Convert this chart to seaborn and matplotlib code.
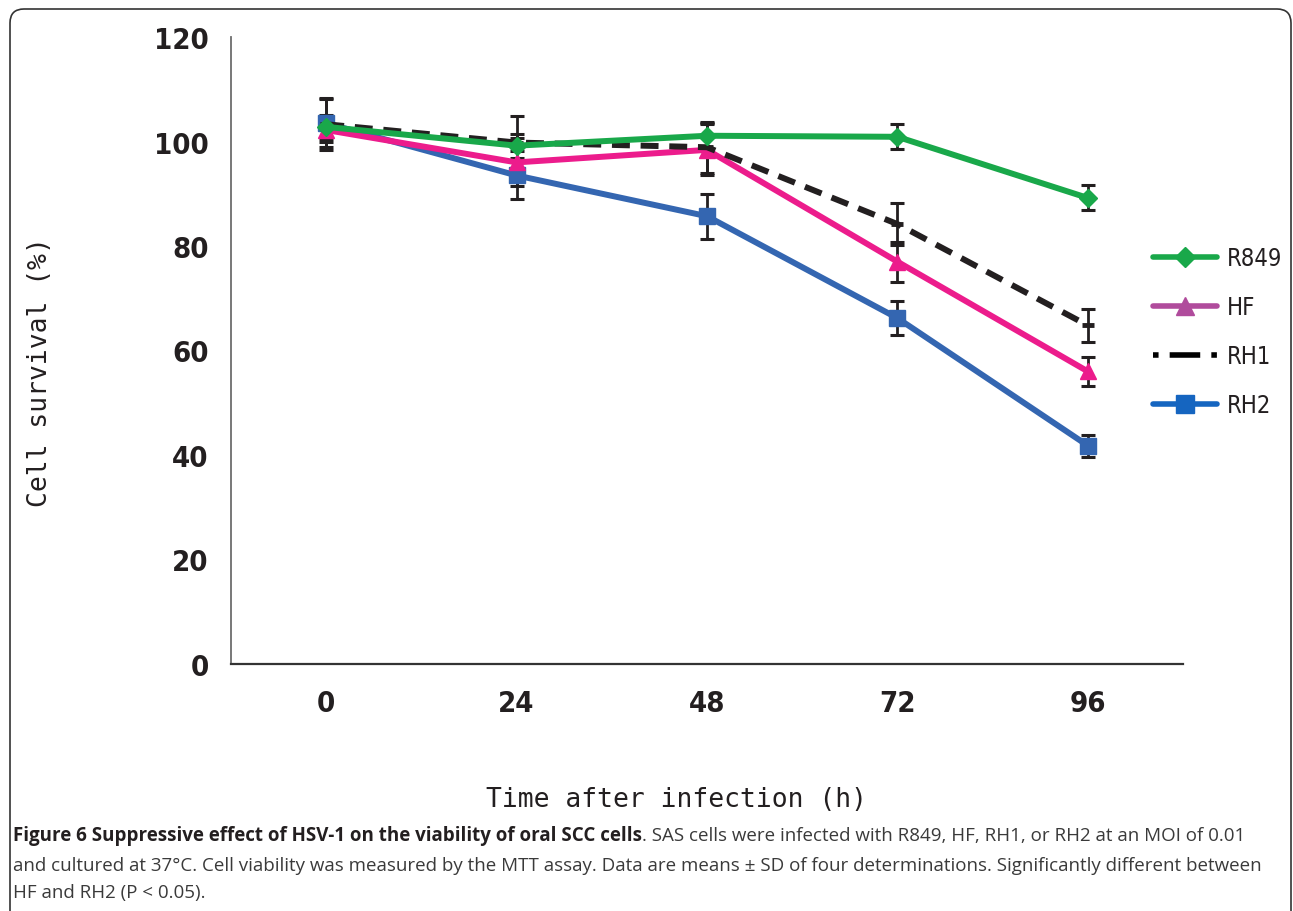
import os
import numpy as np
import pandas as pd
import seaborn as sns
import matplotlib
matplotlib.use("Agg")
import matplotlib.pyplot as plt
from matplotlib import font_manager
from matplotlib.font_manager import FontProperties
from matplotlib.lines import Line2D
from matplotlib.patches import FancyBboxPatch
from matplotlib.transforms import IdentityTransform
from matplotlib.ticker import FixedLocator

# ---------------- data ----------------
hours = [0, 24, 48, 72, 96]
series_names = ["R849", "HF", "RH1", "RH2"]
r849_mean = [102.8, 99.2, 101.1, 100.9, 89.2]
r849_sd = [2.3, 2.3, 2.5, 2.4, 2.4]
hf_mean = [102.2, 96.0, 98.4, 77.0, 56.0]
hf_sd = [2.3, 4.6, 4.9, 3.8, 2.8]
rh1_mean = [103.3, 99.8, 98.9, 84.2, 64.8]
rh1_sd = [5.0, 5.0, 4.9, 4.0, 3.2]
rh2_mean = [103.5, 93.5, 85.7, 66.2, 41.8]
rh2_sd = [4.6, 4.6, 4.3, 3.3, 2.1]
y_ticks = [0, 20, 40, 60, 80, 100, 120]

means = {"R849": r849_mean, "HF": hf_mean, "RH1": rh1_mean, "RH2": rh2_mean}
sds = {"R849": r849_sd, "HF": hf_sd, "RH1": rh1_sd, "RH2": rh2_sd}

rows = []
for name in series_names:
    for h, m, s in zip(hours, means[name], sds[name]):
        rows.append({"time": h, "survival": m, "sd": s, "strain": name})
df = pd.DataFrame(rows)

# ---------------- style ----------------
sns.set_theme(style="white")
ttf = font_manager.fontManager.ttflist
avail = {f.name for f in ttf}


def find_font(keys, avoid=("Oblique", "Italic")):
    for f in ttf:
        b = os.path.basename(f.fname)
        if all(k in b for k in keys) and not any(a in b for a in avoid):
            return f.fname
    return None


cond_bold_file = find_font(["Condensed", "Bold"])
cond_reg_file = find_font(["Condensed"], avoid=("Oblique", "Italic", "Bold"))
if cond_bold_file:
    tick_fp = FontProperties(fname=cond_bold_file, size=21)
else:
    tick_fp = FontProperties(family="Liberation Sans", weight="bold", size=20)
if cond_reg_file:
    leg_fp = FontProperties(fname=cond_reg_file, size=17)
else:
    leg_fp = FontProperties(family="Liberation Sans", size=16)

mono = "DejaVu Sans Mono"
capfont = "Open Sans" if "Open Sans" in avail else "DejaVu Sans"
plt.rcParams["font.family"] = ["Liberation Sans", "DejaVu Sans"]

colors = {"R849": "#19a84a", "HF": "#ec1c8c", "RH1": "#231f20", "RH2": "#3466b1"}
legend_colors = {"R849": "#19a84a", "HF": "#b04b9c", "RH1": "#000000", "RH2": "#1565c0"}
markers = {"R849": "D", "HF": "^", "RH1": "_", "RH2": "s"}
msizes = {"R849": 9, "HF": 12, "RH1": 8, "RH2": 11.5}

fig = plt.figure(figsize=(12.93, 9.12), dpi=100)
ax = fig.add_axes([231 / 1293, 1 - 665 / 912, 952 / 1293, 627 / 912])

draw_order = ["RH2", "HF", "RH1", "R849"]
for name in draw_order:
    sub = df[df["strain"] == name]
    ax.errorbar(sub["time"], sub["survival"], yerr=sub["sd"], fmt="none",
                ecolor="#231f20", elinewidth=2, capsize=5, capthick=2.2, zorder=2)
for name in draw_order:
    sub = df[df["strain"] == name]
    sns.lineplot(data=sub, x="time", y="survival", ax=ax, color=colors[name],
                 linewidth=4.3, marker=markers[name], markersize=msizes[name],
                 markeredgecolor=colors[name], markeredgewidth=3.5 if name == "RH1" else 1,
                 legend=False, zorder=3, errorbar=None)
    if name == "RH1":
        ax.lines[-1].set_dashes((3, 1.8))

ax.set_xlim(-12, 108)
ax.set_ylim(0, 120)
ax.set_xticks(hours)
ax.set_xticklabels([str(h) for h in hours])
ax.set_yticks(y_ticks)
ax.set_yticklabels([str(v) for v in y_ticks])
ax.yaxis.set_minor_locator(FixedLocator([120]))
ax.tick_params(axis="both", which="major", length=0, colors="#231f20")
ax.tick_params(axis="x", which="major", pad=18)
ax.tick_params(axis="y", which="major", pad=16)
ax.tick_params(axis="y", which="minor", direction="in", length=5, width=1.2, color="#666666", left=True)
for lab in ax.get_xticklabels() + ax.get_yticklabels():
    lab.set_fontproperties(tick_fp)
for side in ["top", "right"]:
    ax.spines[side].set_visible(False)
ax.spines["left"].set_color("#6d6d6d")
ax.spines["bottom"].set_color("#333333")
ax.spines["left"].set_linewidth(1.3)
ax.spines["bottom"].set_linewidth(1.6)
ax.set_xlabel("")
ax.set_ylabel("")

fig.text(676 / 1293, 1 - 800 / 912, "Time after infection (h)", family=mono,
         fontsize=19, ha="center", va="center", color="#231f20")
fig.text(40 / 1293, 1 - 372 / 912, "Cell survival (%)", family=mono,
         fontsize=19, ha="center", va="center", rotation=90, color="#231f20")

# legend
handles = []
for name in series_names:
    if name == "RH1":
        h = Line2D([], [], color=legend_colors[name], linewidth=4, dashes=(1, 2.0, 5.5, 2.0))
    else:
        h = Line2D([], [], color=legend_colors[name], linewidth=4,
                   marker=markers[name], markersize=msizes[name] + 1,
                   markeredgecolor=legend_colors[name])
    handles.append(h)
leg = ax.legend(handles, series_names, loc="upper left",
                bbox_to_anchor=(1144 / 1293, 1 - 238 / 912), bbox_transform=fig.transFigure,
                frameon=False, prop=leg_fp, handlelength=2.7, handletextpad=0.4,
                labelspacing=1.05, borderaxespad=0)
for t in leg.get_texts():
    t.set_color("#231f20")

# caption
line1_bold = "Figure 6 Suppressive effect of HSV-1 on the viability of oral SCC cells"
line1_rest = ". SAS cells were infected with R849, HF, RH1, or RH2 at an MOI of 0.01"
line2 = ("and cultured at 37°C. Cell viability was measured by the MTT assay. Data are means \u00b1 SD "
         "of four determinations. Significantly different between")
line3 = "HF and RH2 (P < 0.05)."

cap_size = 12.5
renderer = fig.canvas.get_renderer()
probe = fig.text(0, 0, line2, family=capfont, fontsize=cap_size)
w = probe.get_window_extent(renderer).width
probe.remove()
cap_size = cap_size * 1257 / w

x0 = 13 / 1293
t1 = fig.text(x0, 1 - 836 / 912, line1_bold, family=capfont, fontsize=cap_size,
              fontweight="bold", va="center", color="#231f20")
bb = t1.get_window_extent(renderer)
fig.text(bb.x1 / 1293, 1 - 836 / 912, line1_rest, family=capfont, fontsize=cap_size,
         va="center", color="#3a3a3a")
fig.text(x0, 1 - 866 / 912, line2, family=capfont, fontsize=cap_size, va="center", color="#3a3a3a")
fig.text(x0, 1 - 893 / 912, line3, family=capfont, fontsize=cap_size, va="center", color="#3a3a3a")

# rounded frame
frame = FancyBboxPatch((10, -30), 1281, 912 - 10 + 30, boxstyle="round,pad=0,rounding_size=14",
                       transform=IdentityTransform(), fill=False, edgecolor="#333333",
                       linewidth=1.2, figure=fig)
fig.patches.append(frame)

fig.savefig("out.png", dpi=100)
